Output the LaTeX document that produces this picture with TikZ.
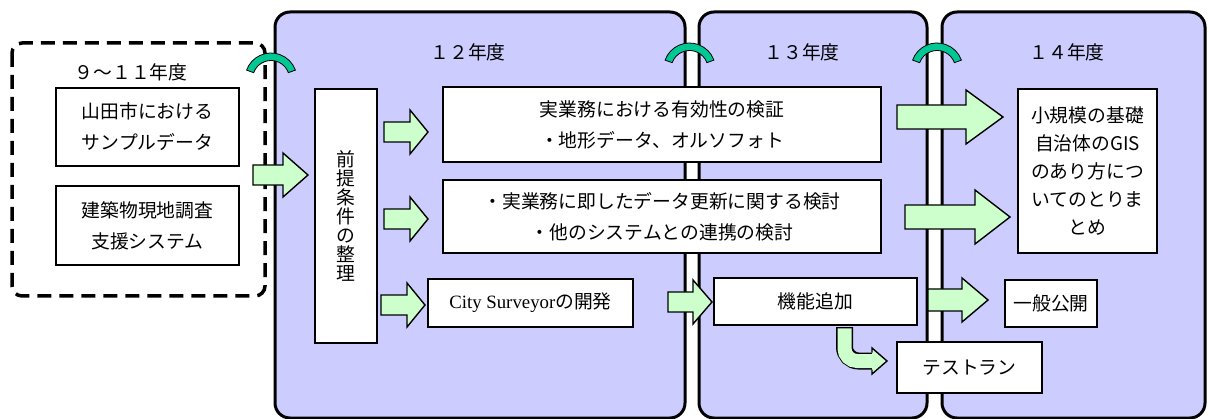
\documentclass[tikz,border=0pt]{standalone}
\usepackage{fontspec}
\setmainfont{Noto Sans CJK JP}
\newfontfamily\seriffont{Liberation Serif}
\usetikzlibrary{calc}
\definecolor{panelfill}{HTML}{CCCCFF}
\definecolor{arrowfill}{HTML}{CCFFCC}
\definecolor{arcfill}{HTML}{00C894}
\newcommand\blockarrow[6]{% x1 x2 y shafthalf headhalf headlen
  \filldraw[garrow] (#1,#3-#4) -- (#2-#6,#3-#4) -- (#2-#6,#3-#5) -- (#2,#3) -- (#2-#6,#3+#5) -- (#2-#6,#3+#4) -- (#1,#3+#4) -- cycle;}
\newcommand\joinarc[2]{% cx cy
  \filldraw[arcstyle] (#1,#2) ++(200:26) arc[start angle=200,end angle=340,radius=26]
    -- ($(#1,#2)+(340:18.5)$) arc[start angle=340,end angle=200,radius=18.5] -- cycle;}
\begin{document}
\begin{tikzpicture}[x=1pt,y=-1pt,
  panel/.style={draw=black, line width=3pt, fill=panelfill, rounded corners=15pt},
  box/.style={draw=black, line width=1.4pt, fill=white, inner sep=0pt, align=center,
    font=\fontsize{18.8}{31}\selectfont},
  garrow/.style={draw=black, line width=1.4pt, fill=arrowfill, line join=miter},
  arcstyle/.style={draw=black, line width=0.8pt, fill=arcfill},
  ytitle/.style={font=\fontsize{18.8}{22}\selectfont}]
\useasboundingbox (0,0) rectangle (1209,419);
% panels
\begin{scope}
\clip (0,0) rectangle (1209,419.5);
\draw[panel] (275,12) rectangle (685,418);
\draw[panel] (699,12) rectangle (927,418);
\draw[panel] (942,12) rectangle (1205,418);
\end{scope}
% dashed box
\draw[line width=3.5pt, dash pattern=on 14pt off 8pt, rounded corners=10pt] (12,43) rectangle (265,296);
% titles
\node[ytitle] (t11) at (131,72) {９～１１年度};
\node[ytitle] (t12) at (468,52) {１２年度};
\node[ytitle] (t13) at (802,52) {１３年度};
\node[ytitle] (t14) at (1067,52) {１４年度};
% boxes
\node[box, minimum width=183pt, minimum height=78pt] (yamada) at (147.5,127) {山田市における\\サンプルデータ};
\node[box, minimum width=183pt, minimum height=79pt] (kenchiku) at (147.5,225.5) {建築物現地調査\\支援システム};
\node[box, minimum width=62pt, minimum height=254pt, font=\fontsize{18.8}{19}\selectfont] (zentei) at (346,216) {前\\提\\条\\件\\の\\整\\理};
\node[box, minimum width=438pt, minimum height=75pt] (yuko) at (662,124.5) {実業務における有効性の検証\\・地形データ、オルソフォト};
\node[box, minimum width=438pt, minimum height=73pt] (koshin) at (662,216.5) {・実業務に即したデータ更新に関する検討\\・他のシステムとの連携の検討};
\node[box, minimum width=205pt, minimum height=48pt] (city) at (530.5,303) {{\seriffont City Surveyor}の開発};
\node[box, minimum width=203pt, minimum height=47pt] (kino) at (815.5,301.5) {機能追加};
\node[box, minimum width=92pt, minimum height=47pt] (kokai) at (1051,303.5) {一般公開};
\node[box, minimum width=145pt, minimum height=51pt] (test) at (969.5,367.5) {テストラン};
\node[box, minimum width=139pt, minimum height=164pt, font=\fontsize{18.8}{28}\selectfont] (matome) at (1087.5,171) {小規模の基礎\\自治体のGIS\\のあり方につ\\いてのとりま\\とめ};
% block arrows
\blockarrow{253}{308}{175}{10}{22}{25}
\blockarrow{384}{428}{132}{10}{22}{18}
\blockarrow{384}{428}{219}{10}{22}{18}
\blockarrow{381}{425}{305}{10}{22}{18}
\blockarrow{668}{712}{302}{10}{22}{19}
\blockarrow{928}{988}{300}{11}{22}{26}
\blockarrow{897}{1003}{117}{12}{27}{37}
\blockarrow{905}{1010}{217}{12}{27}{35}
% curved arrow from kino to test
\draw[line width=17pt, black, rounded corners=14pt] (844.5,327) |- (874,361);
\draw[line width=14pt, arrowfill, rounded corners=12.5pt] (844.5,328.4) |- (874,361);
\filldraw[garrow] (872,352.5) -- (872,348) -- (887,361) -- (872,374) -- (872,369.5);
% joining arcs
\joinarc{271}{79}
\joinarc{689.5}{69}
\joinarc{937}{69}
\end{tikzpicture}
\end{document}
